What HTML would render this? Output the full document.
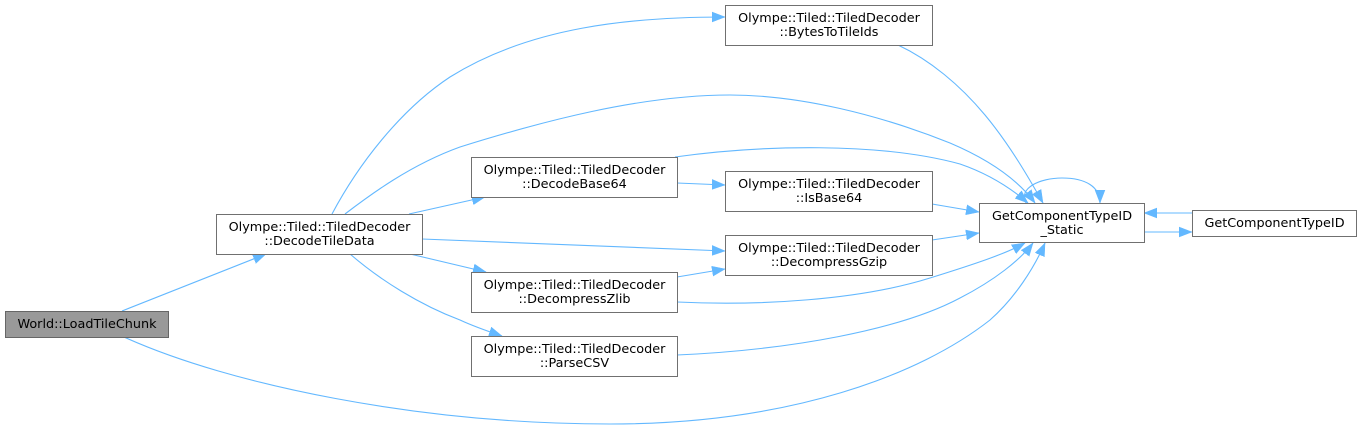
<!DOCTYPE html>
<html>
<head>
<meta charset="utf-8">
<style>
  html, body { margin:0; padding:0; background:#ffffff; }
  body { width:1361px; height:430px; overflow:hidden; }
  svg { display:block; }
  text { font-family: "DejaVu Sans", "Liberation Sans", sans-serif; font-size:12.8px; fill:#000; }
  .n { fill:#ffffff; stroke:#707070; stroke-width:1; }
  .g { fill:#999999; stroke:#666666; stroke-width:1; }
  .e { fill:none; stroke:#63b8ff; stroke-width:1.1; }
</style>
</head>
<body>
<svg width="1361" height="430" viewBox="0 0 1361 430" xmlns="http://www.w3.org/2000/svg">
  <defs>
    <marker id="a" markerUnits="userSpaceOnUse" markerWidth="14" markerHeight="11" refX="13" refY="5" orient="auto" viewBox="0 0 14 10">
      <path d="M0,0 L13,5 L0,10 Z" fill="#63b8ff" stroke="#63b8ff" stroke-width="0.5"/>
    </marker>
  </defs>

  <!-- Edges -->
  <!-- LoadTileChunk -> DecodeTileData -->
  <path class="e" marker-end="url(#a)" d="M122,311 L266,254"/>
  <!-- LoadTileChunk -> GCT_Static -->
  <path class="e" marker-end="url(#a)" d="M124,337 C230,385 420,424 610,424 C790,424 920,375 990,320 C1015,298 1034,268 1045,243"/>
  <!-- DecodeTileData -> BytesToTileIds -->
  <path class="e" marker-end="url(#a)" d="M332,214 C358,165 400,110 450,77 C530,27 630,17 725,17"/>
  <!-- DecodeTileData -> GCT_Static (big arc) -->
  <path class="e" marker-end="url(#a)" d="M345,214 C370,195 410,165 460,147 C540,122 640,95 730,95 C800,95 880,115 950,143 C990,160 1018,180 1035,203"/>
  <!-- DecodeTileData -> DecodeBase64 -->
  <path class="e" marker-end="url(#a)" d="M409,214 L485,197"/>
  <!-- DecodeTileData -> DecompressGzip -->
  <path class="e" marker-end="url(#a)" d="M422,239 L725,251"/>
  <!-- DecodeTileData -> DecompressZlib -->
  <path class="e" marker-end="url(#a)" d="M410,254 L486,272"/>
  <!-- DecodeTileData -> ParseCSV -->
  <path class="e" marker-end="url(#a)" d="M350,254 C380,280 420,305 460,320 C475,327 490,332 502,336"/>
  <!-- BytesToTileIds -> GCT_Static -->
  <path class="e" marker-end="url(#a)" d="M898,45 C930,60 960,85 985,115 C1010,145 1030,180 1043,203"/>
  <!-- DecodeBase64 -> IsBase64 -->
  <path class="e" marker-end="url(#a)" d="M677,183 L725,185"/>
  <!-- DecodeBase64 -> GCT_Static -->
  <path class="e" marker-end="url(#a)" d="M675,157 C760,145 880,142 960,164 C992,175 1013,190 1028,203"/>
  <!-- IsBase64 -> GCT_Static -->
  <path class="e" marker-end="url(#a)" d="M932,204 L979,212"/>
  <!-- DecompressGzip -> GCT_Static -->
  <path class="e" marker-end="url(#a)" d="M932,240 L979,233"/>
  <!-- DecompressZlib -> DecompressGzip -->
  <path class="e" marker-end="url(#a)" d="M677,277 L725,269"/>
  <!-- DecompressZlib -> GCT_Static -->
  <path class="e" marker-end="url(#a)" d="M677,302 C760,306 860,300 930,278 C975,264 1005,254 1025,243"/>
  <!-- ParseCSV -> GCT_Static -->
  <path class="e" marker-end="url(#a)" d="M677,355 C790,350 900,330 960,298 C995,280 1020,260 1033,243"/>
  <!-- Self loop -->
  <path class="e" marker-end="url(#a)" d="M1026,203 C1018,188 1040,178 1062,178 C1086,178 1100,187 1100,203"/>
  <!-- GCT_Static -> GCTID -->
  <path class="e" marker-end="url(#a)" d="M1144,232 L1192,232"/>
  <!-- GCTID -> GCT_Static -->
  <path class="e" marker-end="url(#a)" d="M1192,213 L1144,213"/>

  <!-- Nodes -->
  <rect class="g" x="5.5" y="311.5" width="163" height="26"/>
  <text x="87" y="328" text-anchor="middle">World::LoadTileChunk</text>

  <rect class="n" x="216.5" y="214.5" width="206" height="40"/>
  <text x="319.5" y="231" text-anchor="middle">Olympe::Tiled::TiledDecoder</text>
  <text x="319.5" y="245" text-anchor="middle">::DecodeTileData</text>

  <rect class="n" x="725.5" y="5.5" width="207" height="40"/>
  <text x="829" y="22" text-anchor="middle">Olympe::Tiled::TiledDecoder</text>
  <text x="829" y="36" text-anchor="middle">::BytesToTileIds</text>

  <rect class="n" x="471.5" y="157.5" width="206" height="40"/>
  <text x="574.5" y="174" text-anchor="middle">Olympe::Tiled::TiledDecoder</text>
  <text x="574.5" y="188" text-anchor="middle">::DecodeBase64</text>

  <rect class="n" x="725.5" y="171.5" width="207" height="40"/>
  <text x="829" y="188" text-anchor="middle">Olympe::Tiled::TiledDecoder</text>
  <text x="829" y="202" text-anchor="middle">::IsBase64</text>

  <rect class="n" x="725.5" y="235.5" width="207" height="40"/>
  <text x="829" y="252" text-anchor="middle">Olympe::Tiled::TiledDecoder</text>
  <text x="829" y="266" text-anchor="middle">::DecompressGzip</text>

  <rect class="n" x="471.5" y="272.5" width="206" height="40"/>
  <text x="574.5" y="289" text-anchor="middle">Olympe::Tiled::TiledDecoder</text>
  <text x="574.5" y="303" text-anchor="middle">::DecompressZlib</text>

  <rect class="n" x="471.5" y="336.5" width="206" height="40"/>
  <text x="574.5" y="353" text-anchor="middle">Olympe::Tiled::TiledDecoder</text>
  <text x="574.5" y="367" text-anchor="middle">::ParseCSV</text>

  <rect class="n" x="979.5" y="203.5" width="165" height="39"/>
  <text x="1062" y="220" text-anchor="middle">GetComponentTypeID</text>
  <text x="1062" y="234" text-anchor="middle">_Static</text>

  <rect class="n" x="1192.5" y="210.5" width="164" height="26"/>
  <text x="1274.5" y="227" text-anchor="middle">GetComponentTypeID</text>
</svg>
</body>
</html>
